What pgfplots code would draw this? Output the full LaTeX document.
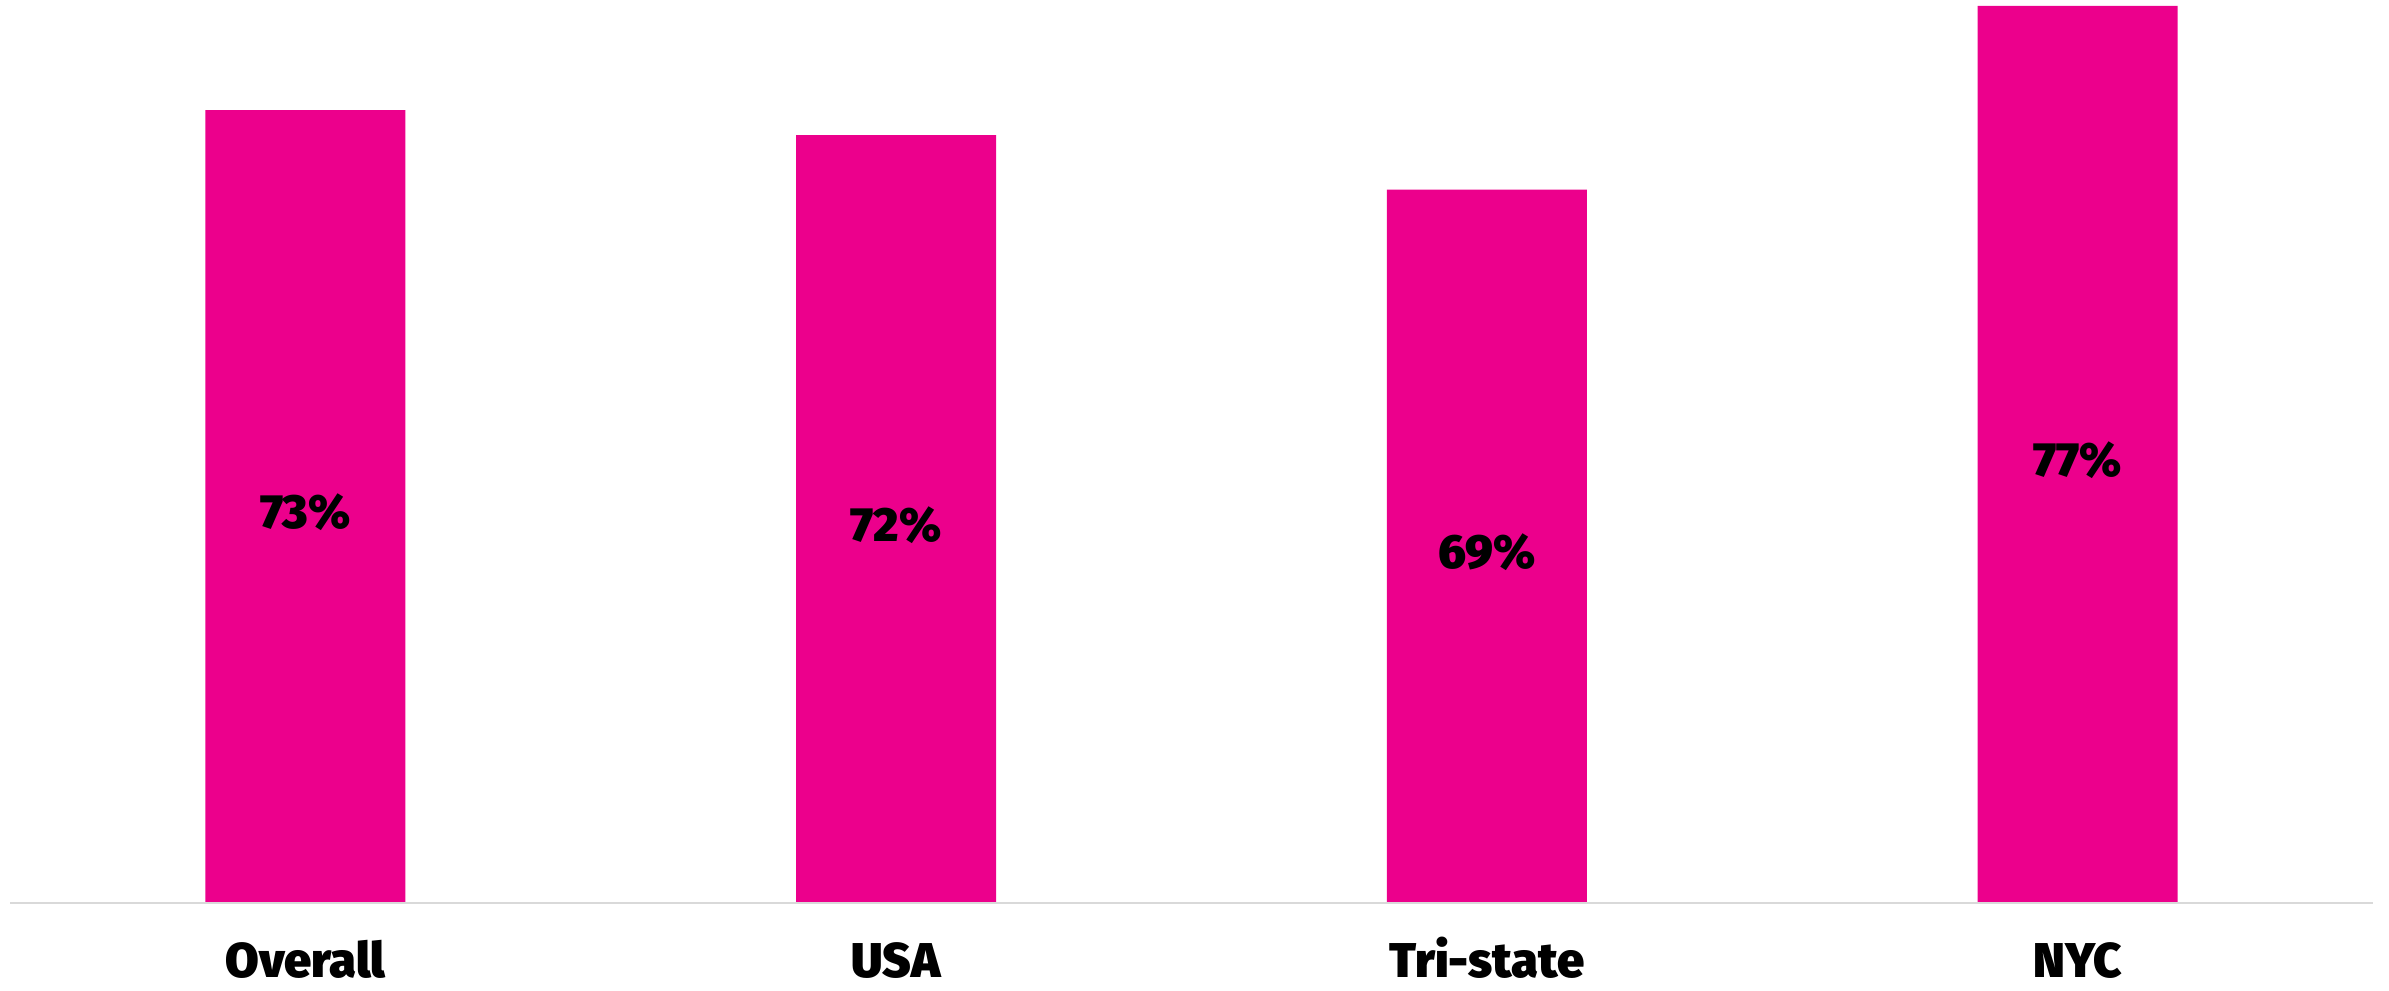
\documentclass[border=0pt]{standalone}
\usepackage{pgfplots}
\pgfplotsset{compat=1.18}
\usepackage{fontspec}
\setmainfont{Fira Sans}[BoldFont={Fira Sans Black}]
\definecolor{barpink}{HTML}{EC008C}
\definecolor{basegray}{HTML}{D9D9D9}
\begin{document}
\begin{tikzpicture}
\begin{axis}[
  name=ax,
  scale only axis,
  width=590.75pt, height=225.75pt,
  xmin=-0.5, xmax=3.5,
  ymin=0, ymax=83.15,
  axis y line=none,
  axis x line*=bottom,
  x axis line style={basegray, line width=0.5pt, -},
  xtick={0,1,2,3},
  xticklabels={Overall,USA,Tri-state,NYC},
  major tick length=0pt,
  xticklabel style={anchor=base, inner sep=0pt, yshift=-18.6pt, font=\fontsize{12.2pt}{13pt}\selectfont\bfseries},
  ybar, bar width=50pt,
  axis on top,
  clip=false,
  point meta=explicit symbolic,
  nodes near coords,
  visualization depends on={y \as \rawy},
  every node near coord/.style={font=\fontsize{12pt}{13pt}\selectfont\bfseries, black, anchor=center, yshift={-1.35749pt*\rawy-1.5pt}},
]
\addplot[fill=barpink, draw=none]
  coordinates {(0,73.0) [73\%] (1,70.7) [72\%] (2,65.7) [69\%] (3,82.6) [77\%]};
\end{axis}
\pgfresetboundingbox
\path[use as bounding box] (ax.south west) ++(-2.5pt,-21.75pt) rectangle ++(597.25pt,247.5pt);
\end{tikzpicture}
\end{document}
